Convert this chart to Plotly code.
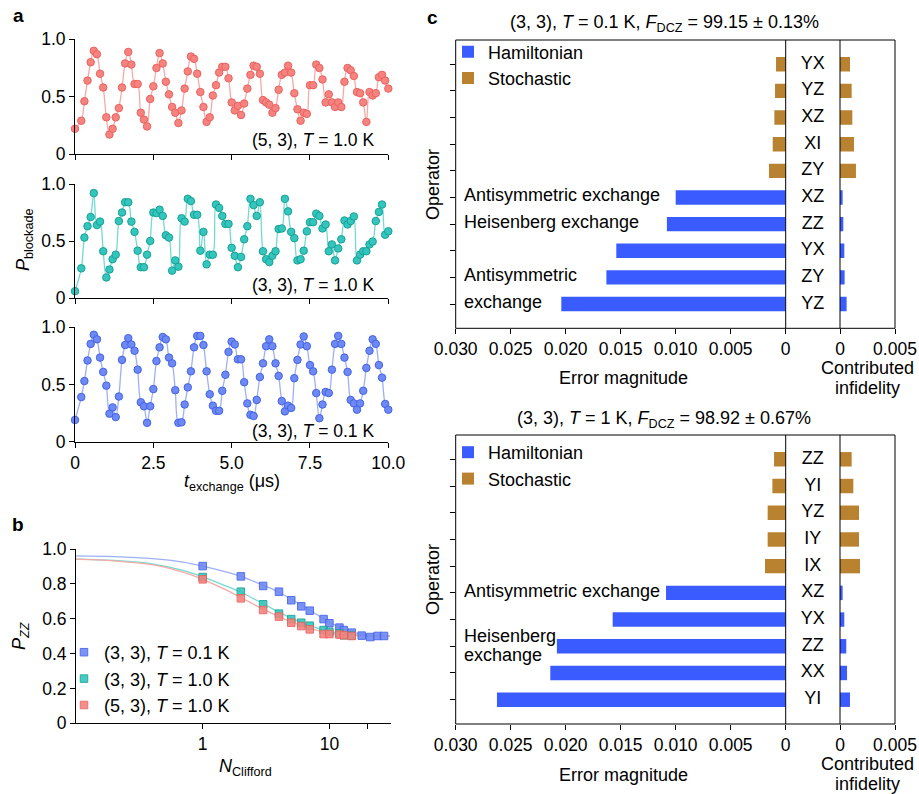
import plotly.graph_objects as go

W, H = 919, 794
def px(x): return x / W
def py(y): return 1 - y / H

FONT = "Liberation Sans, Arial, sans-serif"
FS = 18
TFS = 17.5

# ---------------- Panel a data ----------------
t_exchange = [0.0] + [round(0.1 * k, 1) for k in range(2, 101)]
p_53_1K = [0.22, 0.29, 0.46, 0.64, 0.80, 0.90, 0.87, 0.70, 0.58, 0.32,
           0.17, 0.22, 0.32, 0.40, 0.58, 0.79, 0.89, 0.78, 0.61, 0.61,
           0.36, 0.30, 0.24, 0.48, 0.59, 0.75, 0.88, 0.79, 0.63, 0.52,
           0.41, 0.36, 0.27, 0.38, 0.57, 0.72, 0.85, 0.83, 0.70, 0.54,
           0.41, 0.28, 0.32, 0.51, 0.60, 0.71, 0.76, 0.76, 0.66, 0.45,
           0.38, 0.42, 0.34, 0.44, 0.57, 0.69, 0.77, 0.76, 0.70, 0.47,
           0.45, 0.43, 0.36, 0.40, 0.56, 0.69, 0.71, 0.77, 0.71, 0.53,
           0.39, 0.29, 0.36, 0.35, 0.60, 0.60, 0.78, 0.75, 0.65, 0.45,
           0.52, 0.45, 0.41, 0.45, 0.41, 0.63, 0.75, 0.73, 0.68, 0.54,
           0.53, 0.45, 0.28, 0.54, 0.51, 0.53, 0.67, 0.69, 0.64, 0.57]
p_33_1K = [0.06, 0.26, 0.53, 0.63, 0.71, 0.92, 0.64, 0.67, 0.41, 0.18,
           0.25, 0.34, 0.38, 0.675, 0.75, 0.84, 0.84, 0.67, 0.58, 0.415,
           0.27, 0.27, 0.38, 0.50, 0.75, 0.745, 0.775, 0.72, 0.55, 0.53,
           0.24, 0.33, 0.275, 0.70, 0.67, 0.87, 0.85, 0.73, 0.73, 0.415,
           0.58, 0.295, 0.38, 0.38, 0.82, 0.79, 0.72, 0.65, 0.65, 0.44,
           0.37, 0.27, 0.36, 0.515, 0.63, 0.87, 0.815, 0.72, 0.84, 0.41,
           0.34, 0.315, 0.37, 0.41, 0.605, 0.61, 0.87, 0.76, 0.58, 0.525,
           0.33, 0.34, 0.415, 0.585, 0.665, 0.665, 0.74, 0.72, 0.61, 0.645,
           0.41, 0.47, 0.33, 0.435, 0.515, 0.68, 0.645, 0.675, 0.715, 0.33,
           0.38, 0.41, 0.41, 0.47, 0.495, 0.675, 0.755, 0.82, 0.555, 0.585]
p_33_01K = [0.19, 0.39, 0.53, 0.71, 0.855, 0.935, 0.895, 0.735, 0.61, 0.49,
            0.245, 0.30, 0.215, 0.395, 0.715, 0.845, 0.905, 0.85, 0.795, 0.63,
            0.345, 0.31, 0.165, 0.31, 0.46, 0.705, 0.825, 0.915, 0.895, 0.735,
            0.685, 0.45, 0.165, 0.17, 0.325, 0.475, 0.615, 0.825, 0.925, 0.925,
            0.845, 0.615, 0.415, 0.315, 0.27, 0.27, 0.445, 0.585, 0.785, 0.875,
            0.85, 0.72, 0.72, 0.52, 0.335, 0.235, 0.225, 0.365, 0.565, 0.685,
            0.835, 0.895, 0.835, 0.685, 0.575, 0.355, 0.265, 0.315, 0.295, 0.555,
            0.715, 0.85, 0.92, 0.835, 0.67, 0.615, 0.425, 0.205, 0.325, 0.435,
            0.425, 0.63, 0.855, 0.925, 0.855, 0.735, 0.61, 0.365, 0.335, 0.28,
            0.335, 0.445, 0.645, 0.795, 0.895, 0.855, 0.67, 0.56, 0.33, 0.28]

# ---------------- Panel b data ----------------
n_clifford_01K = [1, 2, 3, 4, 5, 6, 7, 9, 10, 12, 13, 15, 18, 21, 24, 27]
pzz_33_01K = [0.902, 0.843, 0.788, 0.755, 0.706, 0.671, 0.646, 0.598, 0.574,
              0.549, 0.535, 0.520, 0.503, 0.495, 0.501, 0.501]
n_clifford_1K = [1, 2, 3, 4, 5, 6, 7, 9, 10, 12, 13, 15]
pzz_33_1K = [0.839, 0.755, 0.683, 0.629, 0.598, 0.577, 0.560, 0.535, 0.524, 0.516, 0.505, 0.503]
pzz_53_1K = [0.826, 0.717, 0.650, 0.612, 0.577, 0.558, 0.539, 0.512, 0.512, 0.509, 0.505, 0.501]
# fit curves
n_fit = [0.1, 0.2, 0.4, 0.7, 1, 1.5, 2, 3, 4, 5, 7, 10, 15, 20, 30]
fit_33_01K = [0.960, 0.956, 0.945, 0.925, 0.902, 0.870, 0.843, 0.792, 0.752, 0.712, 0.650, 0.580, 0.525, 0.507, 0.500]
fit_33_1K = [0.942, 0.934, 0.915, 0.877, 0.840, 0.790, 0.752, 0.686, 0.638, 0.603, 0.560, 0.527, 0.508, 0.502, 0.500]
fit_53_1K = [0.942, 0.932, 0.910, 0.868, 0.826, 0.768, 0.722, 0.655, 0.612, 0.582, 0.545, 0.518, 0.504, 0.501, 0.500]

# ---------------- Panel c data ----------------
ops_top = ['YX', 'YZ', 'XZ', 'XI', 'ZY', 'XZ', 'ZZ', 'YX', 'ZY', 'YZ']
kind_top = ['S'] * 5 + ['H'] * 5
err_top = [0.00088, 0.00097, 0.00103, 0.00118, 0.00152, 0.0100, 0.0108, 0.0154, 0.0163, 0.0204]
inf_top = [0.00091, 0.00106, 0.00112, 0.00127, 0.00145, 0.00024, 0.00030, 0.00039, 0.00042, 0.00060]
ops_bot = ['ZZ', 'YI', 'YZ', 'IY', 'IX', 'XZ', 'YX', 'ZZ', 'XX', 'YI']
kind_bot = ['S'] * 5 + ['H'] * 5
err_bot = [0.00106, 0.00121, 0.00164, 0.00164, 0.00188, 0.01088, 0.01573, 0.0208, 0.0214, 0.02625]
inf_bot = [0.00106, 0.00121, 0.00173, 0.00173, 0.00182, 0.00024, 0.00039, 0.00057, 0.00064, 0.00091]

# colours
RED_F, RED_E, RED_L = '#F5837F', '#EC625E', '#F7A9A6'
TEAL_F, TEAL_E, TEAL_L = '#34C6BC', '#15A198', '#72DAD2'
BLUE_F, BLUE_E, BLUE_L = '#6E89F3', '#4262EA', '#9DB0F6'
HAM, STO = '#3A5BFF', '#B98230'

fig = go.Figure()

# ---------- panel a ----------
a_series = [(p_53_1K, RED_F, RED_E, RED_L, 'x', 'y'),
            (p_33_1K, TEAL_F, TEAL_E, TEAL_L, 'x2', 'y2'),
            (p_33_01K, BLUE_F, BLUE_E, BLUE_L, 'x3', 'y3')]
for vals, fc, ec, lc, xa, ya in a_series:
    fig.add_trace(go.Scatter(x=t_exchange, y=vals, mode='lines', line=dict(color=lc, width=1.3, shape='spline', smoothing=1.0),
                             xaxis=xa, yaxis=ya, showlegend=False, hoverinfo='skip'))
    fig.add_trace(go.Scatter(x=t_exchange, y=vals, mode='markers', cliponaxis=False,
                             marker=dict(size=7.5, color=fc, line=dict(color=ec, width=1)),
                             xaxis=xa, yaxis=ya, showlegend=False))

# ---------- panel b ----------
b_series = [(n_clifford_01K, pzz_33_01K, fit_33_01K, BLUE_F, BLUE_E, BLUE_L, '(3, 3), <i>T</i> = 0.1 K'),
            (n_clifford_1K, pzz_33_1K, fit_33_1K, TEAL_F, TEAL_E, TEAL_L, '(3, 3), <i>T</i> = 1.0 K'),
            (n_clifford_1K, pzz_53_1K, fit_53_1K, RED_F, RED_E, RED_L, '(5, 3), <i>T</i> = 1.0 K')]
for nx, vals, fit, fc, ec, lc, name in b_series:
    fig.add_trace(go.Scatter(x=n_fit, y=fit, mode='lines', line=dict(color=lc, width=1.3, shape='spline'),
                             xaxis='x4', yaxis='y4', showlegend=False, hoverinfo='skip'))
for nx, vals, fit, fc, ec, lc, name in b_series:
    fig.add_trace(go.Scatter(x=nx, y=vals, mode='markers', name=name, cliponaxis=False,
                             marker=dict(symbol='square', size=7.5, color=fc, opacity=0.9, line=dict(color=ec, width=1)),
                             xaxis='x4', yaxis='y4', legend='legend'))

# ---------- panel c ----------
def add_c(ops, kinds, err, inf, xl, xm, xr, ya, leg):
    rows = list(range(len(ops)))
    for k, col, nm in [('H', HAM, 'Hamiltonian'), ('S', STO, 'Stochastic')]:
        idx = [i for i in rows if kinds[i] == k]
        fig.add_trace(go.Bar(y=[rows[i] for i in idx], x=[err[i] for i in idx], orientation='h', width=0.54,
                             marker=dict(color=col, line=dict(width=0)), name=nm, legend=leg,
                             xaxis=xl, yaxis=ya, showlegend=True))
        fig.add_trace(go.Bar(y=[rows[i] for i in idx], x=[inf[i] for i in idx], orientation='h', width=0.54,
                             marker=dict(color=col, line=dict(width=0)), name=nm,
                             xaxis=xr, yaxis=ya, showlegend=False))
    fig.add_trace(go.Scatter(x=[0.5] * len(ops), y=rows, text=ops, mode='text', textposition='middle center',
                             textfont=dict(size=FS, color='black', family=FONT), xaxis=xm, yaxis=ya,
                             showlegend=False, hoverinfo='skip'))

add_c(ops_top, kind_top, err_top, inf_top, 'x5', 'x6', 'x7', 'y5', 'legend2')
add_c(ops_bot, kind_bot, err_bot, inf_bot, 'x8', 'x9', 'x10', 'y6', 'legend3')

# ---------- axes ----------
ax = dict(showgrid=False, zeroline=False, showline=True, linecolor='black', linewidth=1, automargin=False,
          ticks='outside', ticklen=5, tickwidth=1, tickcolor='black',
          tickfont=dict(size=TFS, color='black', family=FONT))

xa_dom = [px(75), px(388.3)]
a_y = [(154, 39.3), (298, 184), (441.7, 327.3)]
layout = {}
for i, (yb, yt) in enumerate(a_y):
    sx = '' if i == 0 else str(i + 1)
    layout['xaxis' + sx] = dict(ax, domain=xa_dom, range=[0, 10], anchor='y' + sx,
                                tickvals=[0, 2.5, 5, 7.5, 10], ticktext=['0', '2.5', '5.0', '7.5', '10.0'],
                                showticklabels=(i == 2))
    layout['yaxis' + sx] = dict(ax, domain=[py(yb), py(yt)], range=[0, 1], anchor='x' + sx,
                                tickvals=[0, 0.5, 1], ticktext=['0', '0.5', '1.0'])

layout['xaxis4'] = dict(ax, domain=[px(76), px(390.7)], type='log', range=[-1, 1.484], anchor='y4',
                        tickvals=[1, 10, 20], ticktext=['1', '10', ''])
layout['yaxis4'] = dict(ax, domain=[py(723.3), py(549)], range=[0, 1], anchor='x4',
                        tickvals=[0, 0.2, 0.4, 0.6, 0.8, 1.0], ticktext=['0', '0.2', '0.4', '0.6', '0.8', '1.0'])

BL, BM1, BM2, BR = 455.7, 785.7, 840, 895
c_boxes = [(40, 328.3, 'x5', 'x6', 'x7', 'y5'), (435, 724, 'x8', 'x9', 'x10', 'y6')]
shapes = []
for top, bot, xl, xm, xr, ya in c_boxes:
    layout['xaxis' + xl[1:]] = dict(ax, showline=False, domain=[px(BL), px(BM1)], range=[0.03, 0], anchor=ya,
                                    tickvals=[0.03, 0.025, 0.02, 0.015, 0.01, 0.005, 0],
                                    ticktext=['0.030', '0.025', '0.020', '0.015', '0.010', '0.005', '0'])
    layout['xaxis' + xm[1:]] = dict(domain=[px(BM1), px(BM2)], range=[0, 1], anchor=ya, visible=False, automargin=False)
    layout['xaxis' + xr[1:]] = dict(ax, showline=False, domain=[px(BM2), px(BR)], range=[0, 0.005], anchor=ya,
                                    tickvals=[0, 0.005], ticktext=['0', '0.005'])
    layout['yaxis' + ya[1:]] = dict(ax, showline=False, domain=[py(bot), py(top)], range=[9.91, -0.91], anchor=xl,
                                    tickvals=list(range(10)), showticklabels=False)
    shapes.append(dict(type='rect', xref='paper', yref='paper', x0=px(BL), x1=px(BR), y0=py(bot), y1=py(top),
                       line=dict(color='black', width=1)))
    for xv in (BM1, BM2):
        shapes.append(dict(type='line', xref='paper', yref='paper', x0=px(xv), x1=px(xv), y0=py(bot), y1=py(top),
                           line=dict(color='black', width=1)))

# ---------- annotations ----------
ann = []
def txt(x, y, s, size=FS, xanchor='center', yanchor='middle', angle=0, bold=False, xref='paper', yref='paper', yshift=0):
    if bold:
        s = '<b>' + s + '</b>'
    ann.append(dict(x=x if xref != 'paper' else px(x), y=y if yref != 'paper' else py(y), xref=xref, yref=yref,
                    text=s, showarrow=False, xanchor=xanchor, yanchor=yanchor, textangle=angle, yshift=yshift,
                    font=dict(size=size, color='black', family=FONT)))

txt(18, 15, 'a', size=19, bold=True)
txt(18, 524, 'b', size=19, bold=True)
txt(432, 17, 'c', size=19, bold=True)

txt(376, 140, '(5, 3), <i>T</i> = 1.0 K', xanchor='right', size=17.5)
txt(376, 285, '(3, 3), <i>T</i> = 1.0 K', xanchor='right', size=17.5)
txt(376, 431, '(3, 3), <i>T</i> = 0.1 K', xanchor='right', size=17.5)
txt(24, 240, '<i>P</i><sub>blockade</sub>', angle=-90)
txt(232, 482, '<i>t</i><sub>exchange</sub> (μs)')

txt(20, 636, '<i>P</i><sub><i>ZZ</i></sub>', angle=-90)
txt(246, 767, '<i>N</i><sub>Clifford</sub>')

txt(664, 24, '(3, 3), <i>T</i> = 0.1 K, <i>F</i><sub>DCZ</sub> = 99.15 ± 0.13%')
txt(664, 419, '(3, 3), <i>T</i> = 1 K, <i>F</i><sub>DCZ</sub> = 98.92 ± 0.67%')
for yc in (185, 580):
    txt(433, yc, 'Operator', angle=-90)
for ye, yc1, yc2 in ((378, 368, 388), (775, 764, 784)):
    txt(623, ye, 'Error magnitude')
    txt(867, yc1, 'Contributed')
    txt(867, yc2, 'infidelity')

txt(461.7, 5, 'Antisymmetric exchange', xanchor='left', xref='paper', yref='y5', yshift=2)
txt(461.7, 6, 'Heisenberg exchange', xanchor='left', xref='paper', yref='y5', yshift=2)
txt(461.7, 8, 'Antisymmetric', xanchor='left', xref='paper', yref='y5', yshift=2)
txt(461.7, 9, 'exchange', xanchor='left', xref='paper', yref='y5', yshift=2)
txt(461.7, 5, 'Antisymmetric exchange', xanchor='left', xref='paper', yref='y6', yshift=2)
txt(461.7, 7, 'Heisenberg', xanchor='left', xref='paper', yref='y6', yshift=10)
txt(461.7, 7, 'exchange', xanchor='left', xref='paper', yref='y6', yshift=-9)

leg_common = dict(bgcolor='rgba(0,0,0,0)', borderwidth=0, font=dict(size=FS, color='black', family=FONT),
                  xanchor='left', yanchor='top', tracegroupgap=0, itemclick=False)
fig.update_layout(
    template='none',
    width=W, height=H, margin=dict(l=0, r=0, t=0, b=0, pad=0), autosize=False,
    paper_bgcolor='white', plot_bgcolor='rgba(0,0,0,0)',
    font=dict(family=FONT, size=FS, color='black'),
    barmode='overlay', shapes=shapes, annotations=ann,
    legend=dict(leg_common, x=px(64), y=py(634)),
    legend2=dict(leg_common, x=px(448), y=py(33.5)),
    legend3=dict(leg_common, x=px(448), y=py(434)),
    **layout)

fig.write_html('out.html')
